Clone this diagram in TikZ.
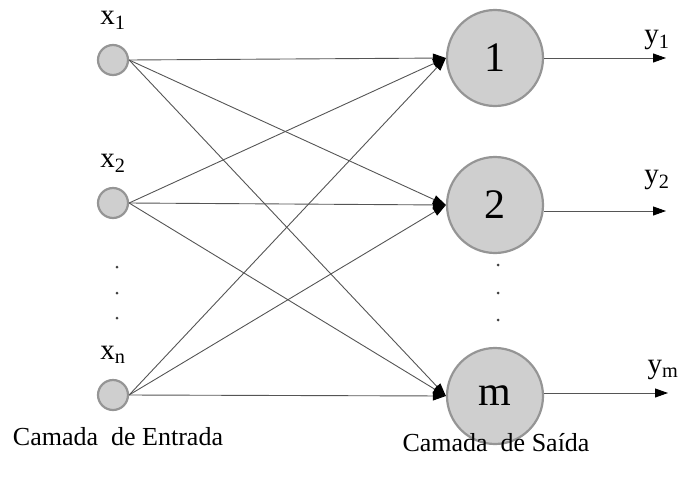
\documentclass[tikz,border=0pt]{standalone}
\usepackage{fontspec}
\setmainfont{Liberation Serif}
\usetikzlibrary{arrows.meta}
\definecolor{cfill}{HTML}{CFCFCF}
\definecolor{cedge}{HTML}{959595}
\definecolor{wire}{HTML}{555555}
\begin{document}
\begin{tikzpicture}[x=1pt,y=-1pt,
  innode/.style={circle,fill=cfill,draw=cedge,line width=2.2pt,minimum size=30pt,inner sep=0pt},
  outnode/.style={circle,fill=cfill,draw=cedge,line width=2.2pt,minimum size=96pt,inner sep=0pt,font=\fontsize{42}{44}\selectfont},
  wirel/.style={draw=wire,line width=0.9pt,-{Triangle[length=13pt,width=9pt,color=black]}},
  lab/.style={font=\fontsize{29}{32}\selectfont,inner sep=0pt},
  dotn/.style={circle,fill=black!75,minimum size=3pt,inner sep=0pt}]
\useasboundingbox (0,0) rectangle (684,482);
\node[innode] (i1) at (113,60) {};
\node[innode] (i2) at (113,203) {};
\node[innode] (i3) at (113,395) {};
\node[outnode] (o1) at (495,58) {1};
\node[outnode] (o2) at (495,205) {2};
\node[outnode] (o3) at (495,396) {m};
\node[lab] (lx1) at (113,20) {x\textsubscript{1}};
\node[lab] (lx2) at (113,163) {x\textsubscript{2}};
\node[lab] (lx3) at (113,355) {x\textsubscript{n}};
\foreach \i in {1,2,3}{
  \foreach \o in {1,2,3}{
    \draw[wirel] (i\i.east) -- (o\o.west);
  }
}
\coordinate (e1) at (666,58);
\coordinate (e2) at (666,211);
\coordinate (e3) at (668,393);
\draw[wirel] (o1.east) -- (e1);
\draw[wirel] (o2.east |- e2) -- (e2);
\draw[wirel] (o3.east |- e3) -- (e3);
\node[lab] (ly1) at (657,40) {y\textsubscript{1}};
\node[lab] (ly2) at (657,180) {y\textsubscript{2}};
\node[lab] (ly3) at (663,370) {y\textsubscript{m}};
\node[dotn] (d1) at (117,267) {};
\node[dotn] (d2) at (117,293) {};
\node[dotn] (d3) at (117,318) {};
\node[dotn] (d4) at (498,265) {};
\node[dotn] (d5) at (498,293) {};
\node[dotn] (d6) at (498,320) {};
\node[lab,font=\fontsize{26}{30}\selectfont] (c1) at (118,437) {Camada\ \ de Entrada};
\node[lab,font=\fontsize{26}{30}\selectfont] (c2) at (496,443) {Camada\ \ de Saída};
\end{tikzpicture}
\end{document}
